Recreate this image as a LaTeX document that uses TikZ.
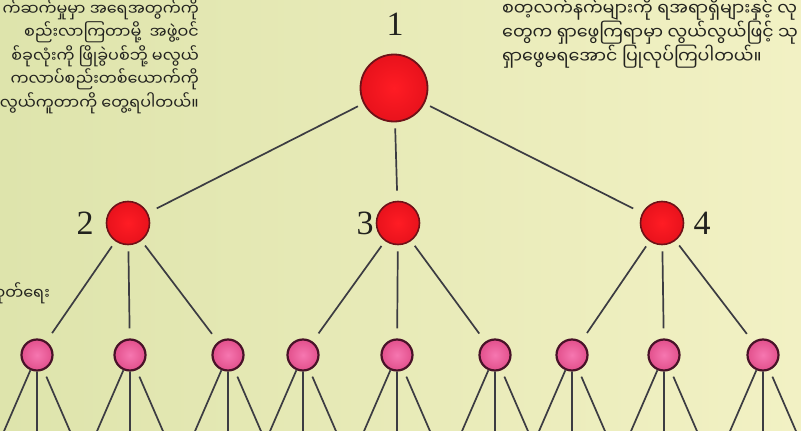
\documentclass[tikz,border=0pt]{standalone}
\usepackage{fontspec}
\newfontfamily\mmfont[Script=Myanmar]{Noto Sans Myanmar UI}
\newfontfamily\numfont{Liberation Serif}
\definecolor{fundoA}{RGB}{222,228,172}
\definecolor{fundoB}{RGB}{242,241,196}
\definecolor{vermelhoA}{RGB}{255,28,36}
\definecolor{vermelhoB}{RGB}{232,18,28}
\definecolor{bordaverm}{RGB}{110,18,24}
\definecolor{rosaA}{RGB}{246,118,176}
\definecolor{rosaB}{RGB}{226,80,140}
\definecolor{bordarosa}{RGB}{72,18,40}
\definecolor{traco}{RGB}{60,60,66}
\definecolor{texto}{RGB}{34,34,30}

\begin{document}
\begin{tikzpicture}[
    x=1pt, y=-1pt,
    % Nó raiz
    noraiz/.style={
        circle, shade, inner color=vermelhoA, outer color=vermelhoB,
        draw=bordaverm, line width=1.8pt,
        minimum size=67pt, inner sep=0pt
    },
    % Nós do segundo nível
    nofilho/.style={
        circle, shade, inner color=vermelhoA, outer color=vermelhoB,
        draw=bordaverm, line width=1.6pt,
        minimum size=43pt, inner sep=0pt
    },
    % Nós do terceiro nível
    noneto/.style={
        circle, shade, inner color=rosaA, outer color=rosaB,
        draw=bordarosa, line width=2.2pt,
        minimum size=31pt, inner sep=0pt
    },
    rotulo/.style={font=\numfont\fontsize{34}{34}\selectfont, text=texto, inner sep=0pt},
    paragrafo/.style={font=\mmfont\fontsize{16}{23.5}\selectfont, text=texto, inner sep=0pt},
    linha/.style={draw=traco, line width=1.7pt, shorten <=6pt, shorten >=10pt},
    folha/.style={draw=traco, line width=1.7pt, shorten <=7pt}
]
\useasboundingbox (0,0) rectangle (801,431);
\clip (0,0) rectangle (801,431);
\shade[left color=fundoA, right color=fundoB] (0,0) rectangle (801,431);

% ---- TEXTOS ----
\node[paragrafo, anchor=north east, align=right] (txt_esq) at (199,-2)
    {က်ဆက်မှုမှာ အရေအတွက်ကို\\စည်းလာကြတာမို့ \ အဖွဲ့ဝင်\\စ်ခုလုံးကို ဖြိုခွဲပစ်ဘို့ မလွယ်\\ကလာပ်စည်းတစ်ယောက်ကို\\လွယ်ကူတာကို တွေ့ရပါတယ်။};
\node[paragrafo, font=\mmfont\fontsize{17.5}{24}\selectfont, anchor=north west, align=left] (txt_dir) at (502,-3)
    {စတ့လက်နက်များကို ရအရာရှိများနှင့် လု\\တွေက ရှာဖွေကြရာမှာ လွယ်လွယ်ဖြင့် သု\\ရှာဖွေမရအောင် ပြုလုပ်ကြပါတယ်။};
\node[paragrafo, anchor=east] (txt_meio) at (50,293) {ထုတ်ရေး};

% ---- NÍVEL 0: RAIZ ----
\node[noraiz] (raiz) at (394,88) {};
\node[rotulo] (r1) at (395,24) {1};

% ---- NÍVEL 1: FILHOS ----
\node[nofilho] (f2) at (128,223) {};
\node[nofilho] (f3) at (398,223) {};
\node[nofilho] (f4) at (662,223) {};
\node[rotulo] (r2) at (85,223) {2};
\node[rotulo] (r3) at (365,223) {3};
\node[rotulo] (r4) at (702,223) {4};

\draw[linha] (raiz) -- (f2);
\draw[linha] (raiz) -- (f3);
\draw[linha] (raiz) -- (f4);

% ---- NÍVEL 2: NETOS ----
\node[noneto] (n1) at (37,355)  {};
\node[noneto] (n2) at (130,355) {};
\node[noneto] (n3) at (228,355) {};
\node[noneto] (n4) at (303,355) {};
\node[noneto] (n5) at (397,355) {};
\node[noneto] (n6) at (495,355) {};
\node[noneto] (n7) at (572,355) {};
\node[noneto] (n8) at (664,355) {};
\node[noneto] (n9) at (763,355) {};

\draw[linha] (f2) -- (n1);
\draw[linha] (f2) -- (n2);
\draw[linha] (f2) -- (n3);
\draw[linha] (f3) -- (n4);
\draw[linha] (f3) -- (n5);
\draw[linha] (f3) -- (n6);
\draw[linha] (f4) -- (n7);
\draw[linha] (f4) -- (n8);
\draw[linha] (f4) -- (n9);

% ---- RAMOS QUE SAEM PELA BORDA INFERIOR ----
\coordinate (b1a) at (-2,445);  \coordinate (b1b) at (37,445);  \coordinate (b1c) at (76,445);
\coordinate (b2a) at (91,445);  \coordinate (b2b) at (130,445); \coordinate (b2c) at (169,445);
\coordinate (b3a) at (189,445); \coordinate (b3b) at (228,445); \coordinate (b3c) at (267,445);
\coordinate (b4a) at (264,445); \coordinate (b4b) at (303,445); \coordinate (b4c) at (342,445);
\coordinate (b5a) at (358,445); \coordinate (b5b) at (397,445); \coordinate (b5c) at (436,445);
\coordinate (b6a) at (456,445); \coordinate (b6b) at (495,445); \coordinate (b6c) at (534,445);
\coordinate (b7a) at (533,445); \coordinate (b7b) at (572,445); \coordinate (b7c) at (611,445);
\coordinate (b8a) at (625,445); \coordinate (b8b) at (664,445); \coordinate (b8c) at (703,445);
\coordinate (b9a) at (724,445); \coordinate (b9b) at (763,445); \coordinate (b9c) at (802,445);

\draw[folha] (n1) -- (b1a) (n1) -- (b1b) (n1) -- (b1c);
\draw[folha] (n2) -- (b2a) (n2) -- (b2b) (n2) -- (b2c);
\draw[folha] (n3) -- (b3a) (n3) -- (b3b) (n3) -- (b3c);
\draw[folha] (n4) -- (b4a) (n4) -- (b4b) (n4) -- (b4c);
\draw[folha] (n5) -- (b5a) (n5) -- (b5b) (n5) -- (b5c);
\draw[folha] (n6) -- (b6a) (n6) -- (b6b) (n6) -- (b6c);
\draw[folha] (n7) -- (b7a) (n7) -- (b7b) (n7) -- (b7c);
\draw[folha] (n8) -- (b8a) (n8) -- (b8b) (n8) -- (b8c);
\draw[folha] (n9) -- (b9a) (n9) -- (b9b) (n9) -- (b9c);

\end{tikzpicture}
\end{document}
